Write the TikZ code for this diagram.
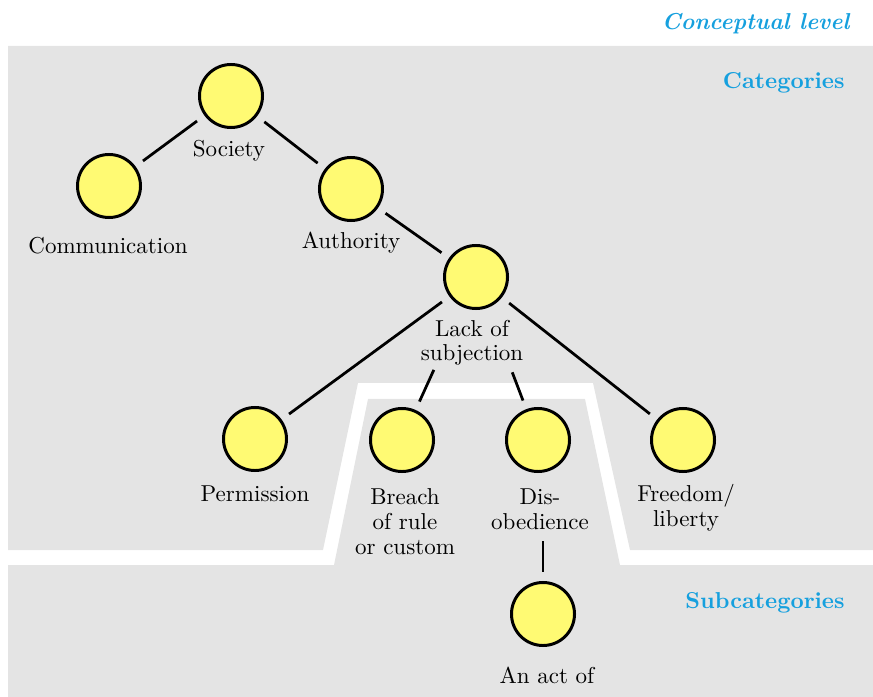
\documentclass[tikz,border=0pt]{standalone}
\usepackage{amsmath,amsthm,amssymb}
\usepackage{tikz}

\definecolor{conceptyellow}{RGB}{255,250,115}
\definecolor{levelgray}{RGB}{228,228,228}
\definecolor{levelblue}{RGB}{22,160,222}

\begin{document}
\begin{tikzpicture}[x=0.4348pt, y=-0.4348pt,
    concept/.style={fill=conceptyellow, draw=black, circle, line width=1.3pt, minimum size=27.4pt, inner sep=0pt},
    conceptname/.style={align=center, anchor=base, font=\fontsize{10}{10.8}\selectfont, inner sep=1pt},
    link/.style={black, line width=1.2pt, shorten <=4pt, shorten >=4pt},
    longlink/.style={link, shorten <=30pt},
    leveltext/.style={levelblue, anchor=base east, inner sep=0pt}]

                \useasboundingbox (0,0) rectangle (873,697);

                \fill[levelgray] (8,46) -- (873,46) -- (873,550) -- (630,550) -- (593,383) -- (358,383) -- (323,550) -- (8,550) -- cycle;
                \fill[levelgray] (8,565) -- (334,565) -- (368,399) -- (585,399) -- (620,565) -- (873,565) -- (873,697) -- (8,697) -- cycle;

                \node[leveltext, font=\bfseries\itshape] (conceptual) at (850,30) {Conceptual level};
                \node[leveltext, font=\bfseries] (categories) at (845,89) {Categories};
                \node[leveltext, font=\bfseries] (subcategories) at (845,608) {Subcategories};

                \node[concept] (society) at (231,96) {};
                \node[concept] (comm) at (109,186) {};
                \node[concept] (auth) at (351,189) {};
                \node[concept] (lack) at (476,277) {};
                \node[concept] (perm) at (255,439) {};
                \node[concept] (breach) at (402,440) {};
                \node[concept] (dis) at (538,440) {};
                \node[concept] (free) at (683,440) {};
                \node[concept] (act) at (543,614) {};

                \node[conceptname] (society-l) at (229,157) {Society};
                \node[conceptname] (comm-l) at (108,254) {Communication};
                \node[conceptname] (auth-l) at (351,249) {Authority};
                \node[conceptname] (lack-l) at (472,361) {Lack of\\subjection};
                \node[conceptname] (perm-l) at (255,501) {Permission};
                \node[conceptname] (breach-l) at (405,554) {Breach\\of rule\\or custom};
                \node[conceptname] (dis-l) at (540,529) {Dis-\\obedience};
                \node[conceptname] (free-l) at (686,526) {Freedom/\\liberty};
                \node[conceptname] (act-l) at (547,683) {An act of};

                \draw[link] (society)--(comm);
                \draw[link] (society)--(auth);
                \draw[link] (auth)--(lack);
                \draw[link] (lack)--(perm);
                \draw[link] (lack)--(free);
                \draw[longlink] (lack)--(breach);
                \draw[longlink] (lack)--(dis);
                \draw[link] (dis-l.south -| act)--(act);

\end{tikzpicture}
\end{document}
